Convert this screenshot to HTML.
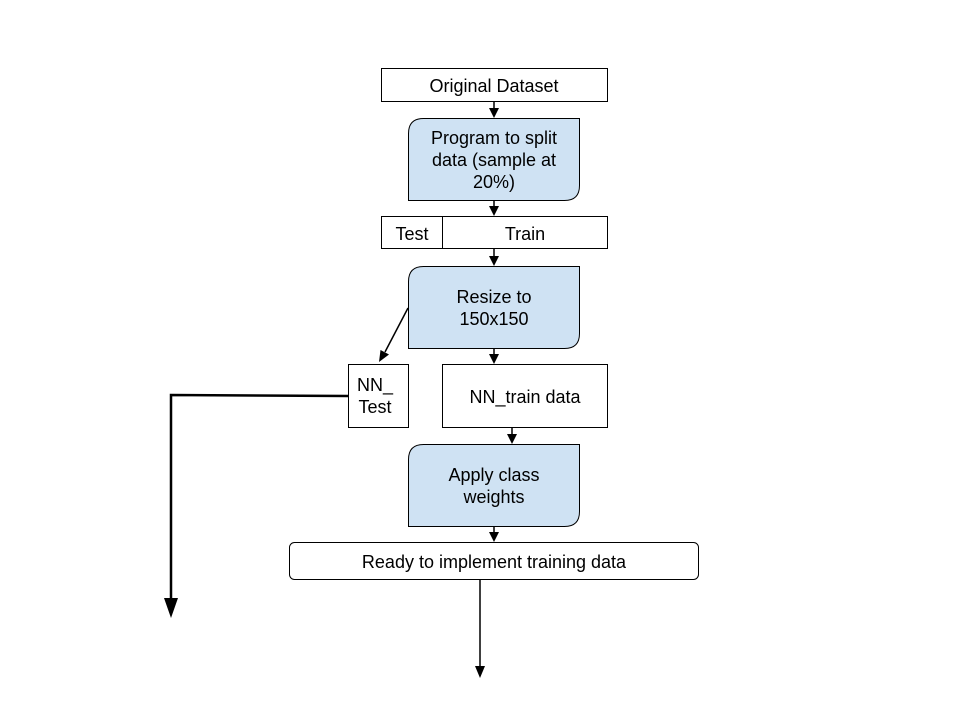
<!DOCTYPE html>
<html><head><meta charset="utf-8"><style>
html,body{margin:0;padding:0;background:#fff;}
svg{display:block;}
text{font-family:"Liberation Sans",sans-serif;font-size:18px;fill:#000;}
</style></head><body>
<svg width="960" height="720" viewBox="0 0 960 720" xmlns="http://www.w3.org/2000/svg">
<g stroke="#000" stroke-width="1" fill="#fff">
<rect x="381.5" y="68.5" width="226" height="33"/>
<path d="M423.5,118.5 H579.5 V185.5 Q579.5,200.5 564.5,200.5 H408.5 V133.5 Q408.5,118.5 423.5,118.5 Z" fill="#cfe2f3"/>
<rect x="381.5" y="216.5" width="61" height="32"/>
<rect x="442.5" y="216.5" width="165" height="32"/>
<path d="M423.5,266.5 H579.5 V333.5 Q579.5,348.5 564.5,348.5 H408.5 V281.5 Q408.5,266.5 423.5,266.5 Z" fill="#cfe2f3"/>
<rect x="348.5" y="364.5" width="60" height="63"/>
<rect x="442.5" y="364.5" width="165" height="63"/>
<path d="M423.5,444.5 H579.5 V511.5 Q579.5,526.5 564.5,526.5 H408.5 V459.5 Q408.5,444.5 423.5,444.5 Z" fill="#cfe2f3"/>
<rect x="289.5" y="542.5" width="409" height="37" rx="5"/>
</g>
<g stroke="#000" stroke-width="1.5" fill="none">
<line x1="494" y1="101" x2="494" y2="110"/>
<line x1="494" y1="200" x2="494" y2="208"/>
<line x1="494" y1="248" x2="494" y2="258"/>
<line x1="494" y1="348" x2="494" y2="356"/>
<line x1="512" y1="427" x2="512" y2="436"/>
<line x1="494" y1="526" x2="494" y2="534"/>
<line x1="480" y1="579" x2="480" y2="668"/>
<line x1="408" y1="308" x2="385" y2="352"/>
</g>
<g fill="#000">
<path d="M489,108 L499,108 L494,118 z"/>
<path d="M489,206 L499,206 L494,216 z"/>
<path d="M489,256 L499,256 L494,266 z"/>
<path d="M489,354 L499,354 L494,364 z"/>
<path d="M507,434 L517,434 L512,444 z"/>
<path d="M489,532 L499,532 L494,542 z"/>
<path d="M475,666 L485,666 L480,678 z"/>
<path d="M379,362 L380.5,350 L389,354.5 z"/>
<path d="M164,598 L178,598 L171,618 z"/>
</g>
<polyline points="348,396 171,395 171,600" stroke="#000" stroke-width="2.5" fill="none"/>
<g text-anchor="middle">
<text x="494" y="92">Original Dataset</text>
<text x="494" y="144">Program to split</text>
<text x="494" y="166">data (sample at</text>
<text x="494" y="188">20%)</text>
<text x="412" y="240">Test</text>
<text x="525" y="240">Train</text>
<text x="494" y="303">Resize to</text>
<text x="494" y="325">150x150</text>
<text x="375" y="391">NN_</text>
<text x="375" y="413">Test</text>
<text x="525" y="403">NN_train data</text>
<text x="494" y="481">Apply class</text>
<text x="494" y="503">weights</text>
<text x="494" y="568">Ready to implement training data</text>
</g>
</svg>
</body></html>
